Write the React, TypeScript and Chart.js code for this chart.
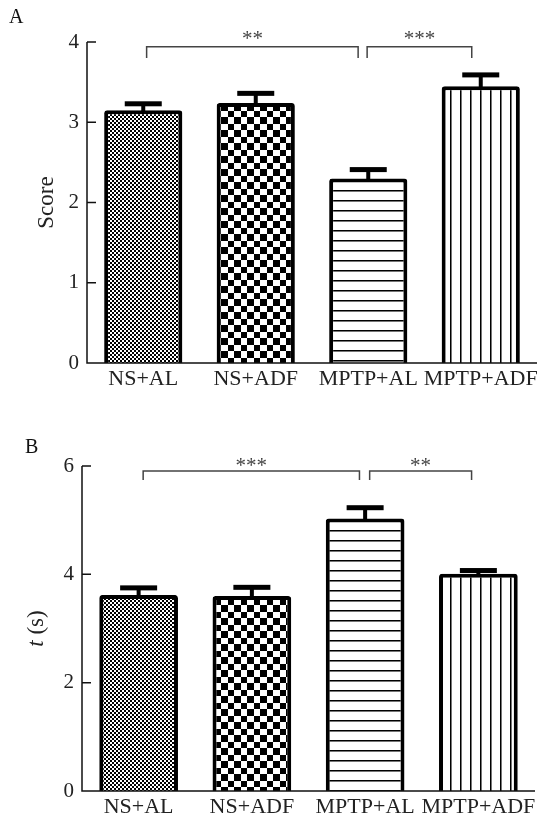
import React, { useEffect, useRef } from 'react';
import { Chart, registerables } from 'chart.js';

Chart.register(...registerables);

const categories = ['NS+AL', 'NS+ADF', 'MPTP+AL', 'MPTP+ADF'];

const scoreMeans = [3.15, 3.24, 2.3, 3.45];
const scoreErrors = [0.08, 0.12, 0.11, 0.14];
const scoreTicks = [0, 1, 2, 3, 4];

const timeMeans = [3.62, 3.6, 5.03, 4.01];
const timeErrors = [0.13, 0.16, 0.2, 0.06];
const timeTicks = [0, 2, 4, 6];

// significance brackets (category positions and data-unit heights)
const scoreBracketFrom = [0.03, 1.99];
const scoreBracketTo = [1.91, 2.92];
const scoreBracketY = [3.94, 3.94];
const scoreBracketDrop = [3.8, 3.8];
const scoreBracketLabels = ['**', '***'];

const timeBracketFrom = [0.04, 2.04];
const timeBracketTo = [1.95, 2.94];
const timeBracketY = [5.91, 5.91];
const timeBracketDrop = [5.74, 5.74];
const timeBracketLabels = ['***', '**'];

const FONT = "'Liberation Serif', 'Times New Roman', serif";

function makePattern(kind: string): CanvasPattern | string {
  const c = document.createElement('canvas');
  const ctx = c.getContext('2d');
  if (!ctx) return '#888';
  if (kind === 'fine') {
    c.width = 4; c.height = 4;
    ctx.fillStyle = '#fff'; ctx.fillRect(0, 0, 4, 4);
    ctx.fillStyle = '#000'; ctx.fillRect(0, 0, 2, 2); ctx.fillRect(2, 2, 2, 2);
  } else if (kind === 'coarse') {
    c.width = 13; c.height = 13;
    ctx.fillStyle = '#fff'; ctx.fillRect(0, 0, 13, 13);
    ctx.fillStyle = '#000'; ctx.fillRect(0, 0, 7, 7); ctx.fillRect(7, 7, 6, 6);
  } else if (kind === 'hlines') {
    c.width = 10; c.height = 10;
    ctx.fillStyle = '#fff'; ctx.fillRect(0, 0, 10, 10);
    ctx.fillStyle = '#000'; ctx.fillRect(0, 0, 10, 1);
    ctx.fillStyle = '#777'; ctx.fillRect(0, 1, 10, 1);
  } else {
    c.width = 10; c.height = 10;
    ctx.fillStyle = '#fff'; ctx.fillRect(0, 0, 10, 10);
    ctx.fillStyle = '#000'; ctx.fillRect(0, 0, 1, 10);
    ctx.fillStyle = '#777'; ctx.fillRect(1, 0, 1, 10);
  }
  return ctx.createPattern(c, 'repeat') || '#888';
}

type PanelCfg = {
  panel: string;
  panelX: number;
  panelY: number;
  means: number[];
  errors: number[];
  ticks: number[];
  bFrom: number[];
  bTo: number[];
  bY: number[];
  bDrop: number[];
  bLabels: string[];
  starGap: number;
  titleX: number;
  titleItalic: string;
  titleRest: string;
};

function makeDecor(cfg: PanelCfg) {
  return {
    id: 'decor' + cfg.panel,
    afterDatasetsDraw(chart: any) {
      const { ctx, chartArea } = chart;
      const { left, right, bottom } = chartArea;
      const x = chart.scales.x;
      const y = chart.scales.y;
      ctx.save();
      // error bars
      const meta = chart.getDatasetMeta(0);
      ctx.fillStyle = '#000';
      meta.data.forEach((bar: any, i: number) => {
        const yErr = y.getPixelForValue(cfg.means[i] + cfg.errors[i]);
        ctx.fillRect(bar.x - 2, yErr, 4, bar.y - yErr + 2);
        ctx.fillRect(bar.x - 18.5, yErr - 2.5, 37, 5);
      });
      // axes
      ctx.strokeStyle = '#111';
      ctx.lineWidth = 1.5;
      ctx.beginPath();
      ctx.moveTo(left, y.getPixelForValue(cfg.ticks[cfg.ticks.length - 1]));
      ctx.lineTo(left, bottom);
      ctx.lineTo(right, bottom);
      ctx.stroke();
      ctx.beginPath();
      cfg.ticks.forEach((t) => {
        if (t === 0) return;
        const py = y.getPixelForValue(t);
        ctx.moveTo(left, py);
        ctx.lineTo(left + 9, py);
      });
      ctx.stroke();
      // brackets
      ctx.strokeStyle = '#444';
      ctx.lineWidth = 1.5;
      cfg.bFrom.forEach((f, i) => {
        const x1 = x.getPixelForValue(f);
        const x2 = x.getPixelForValue(cfg.bTo[i]);
        const yl = y.getPixelForValue(cfg.bY[i]);
        const yd = y.getPixelForValue(cfg.bDrop[i]);
        ctx.beginPath();
        ctx.moveTo(x1, yd);
        ctx.lineTo(x1, yl);
        ctx.lineTo(x2, yl);
        ctx.lineTo(x2, yd);
        ctx.stroke();
        ctx.font = `21px ${FONT}`;
        ctx.fillStyle = '#444';
        ctx.textAlign = 'center';
        ctx.textBaseline = 'alphabetic';
        const m = ctx.measureText(cfg.bLabels[i]);
        const cy = yl - cfg.starGap;
        const base = cy + (m.actualBoundingBoxAscent - m.actualBoundingBoxDescent) / 2;
        ctx.fillText(cfg.bLabels[i], (x1 + x2) / 2, base);
      });
      // y title
      ctx.fillStyle = '#222';
      ctx.textBaseline = 'alphabetic';
      ctx.textAlign = 'left';
      const cyT = (chartArea.top + chartArea.bottom) / 2;
      ctx.translate(cfg.titleX, cyT);
      ctx.rotate(-Math.PI / 2);
      ctx.font = `italic 23px ${FONT}`;
      const w1 = cfg.titleItalic ? ctx.measureText(cfg.titleItalic).width : 0;
      ctx.font = `23px ${FONT}`;
      const w2 = ctx.measureText(cfg.titleRest).width;
      const start = -(w1 + w2) / 2;
      if (cfg.titleItalic) {
        ctx.font = `italic 23px ${FONT}`;
        ctx.fillText(cfg.titleItalic, start, 0);
      }
      ctx.font = `23px ${FONT}`;
      ctx.fillText(cfg.titleRest, start + w1, 0);
      ctx.restore();
      // panel letter
      ctx.save();
      ctx.fillStyle = '#111';
      ctx.font = `20px ${FONT}`;
      ctx.textAlign = 'left';
      ctx.textBaseline = 'alphabetic';
      ctx.fillText(cfg.panel, cfg.panelX, cfg.panelY);
      ctx.restore();
    },
  };
}

function buildChart(
  canvas: HTMLCanvasElement,
  cfg: PanelCfg,
  max: number,
  step: number,
  yWidth: number,
  xHeight: number,
  padTop: number,
  padRight: number
) {
  const patterns = [makePattern('fine'), makePattern('coarse'), makePattern('hlines'), makePattern('vlines')];
  return new Chart(canvas, {
    type: 'bar',
    data: {
      labels: categories,
      datasets: [
        {
          data: cfg.means,
          backgroundColor: patterns as any,
          borderColor: '#000',
          borderWidth: 4,
          borderRadius: 3,
          borderSkipped: 'start',
          barPercentage: 0.695,
          categoryPercentage: 1,
        },
      ],
    },
    options: {
      responsive: false,
      animation: false,
      layout: { padding: { top: padTop, right: padRight, left: 0, bottom: 0 } },
      plugins: { legend: { display: false }, tooltip: { enabled: false }, title: { display: false } },
      scales: {
        x: {
          grid: { display: false, drawTicks: false },
          border: { display: false },
          ticks: { font: { family: FONT, size: 22 }, color: '#222', padding: 3, maxRotation: 0, autoSkip: false },
          afterFit(scale: any) {
            scale.height = xHeight;
          },
        },
        y: {
          min: 0,
          max: max,
          grid: { display: false, drawTicks: false },
          border: { display: false },
          ticks: { stepSize: step, font: { family: FONT, size: 21 }, color: '#222', padding: 8 },
          afterFit(scale: any) {
            scale.width = yWidth;
          },
        },
      },
    },
    plugins: [makeDecor(cfg)],
  });
}

export default function App() {
  const refA = useRef<HTMLCanvasElement>(null);
  const refB = useRef<HTMLCanvasElement>(null);

  useEffect(() => {
    if (!refA.current || !refB.current) return;
    const a = buildChart(
      refA.current,
      {
        panel: 'A', panelX: 9, panelY: 23,
        means: scoreMeans, errors: scoreErrors, ticks: scoreTicks,
        bFrom: scoreBracketFrom, bTo: scoreBracketTo, bY: scoreBracketY, bDrop: scoreBracketDrop,
        bLabels: scoreBracketLabels, starGap: 12,
        titleX: 53, titleItalic: '', titleRest: 'Score',
      },
      4, 1, 87, 37, 42, 7
    );
    const b = buildChart(
      refB.current,
      {
        panel: 'B', panelX: 25, panelY: 43,
        means: timeMeans, errors: timeErrors, ticks: timeTicks,
        bFrom: timeBracketFrom, bTo: timeBracketTo, bY: timeBracketY, bDrop: timeBracketDrop,
        bLabels: timeBracketLabels, starGap: 8.5,
        titleX: 43, titleItalic: 't', titleRest: ' (s)',
      },
      6, 2, 82, 28, 56, 9
    );
    return () => {
      a.destroy();
      b.destroy();
    };
  }, []);

  return (
    <div style={{ position: 'absolute', left: 0, top: 0, width: 544, height: 819, background: '#fff', overflow: 'hidden' }}>
      <canvas ref={refA} width={544} height={400} style={{ position: 'absolute', left: 0, top: 0, display: 'block' }} />
      <canvas ref={refB} width={544} height={409} style={{ position: 'absolute', left: 0, top: 410, display: 'block' }} />
    </div>
  );
}
